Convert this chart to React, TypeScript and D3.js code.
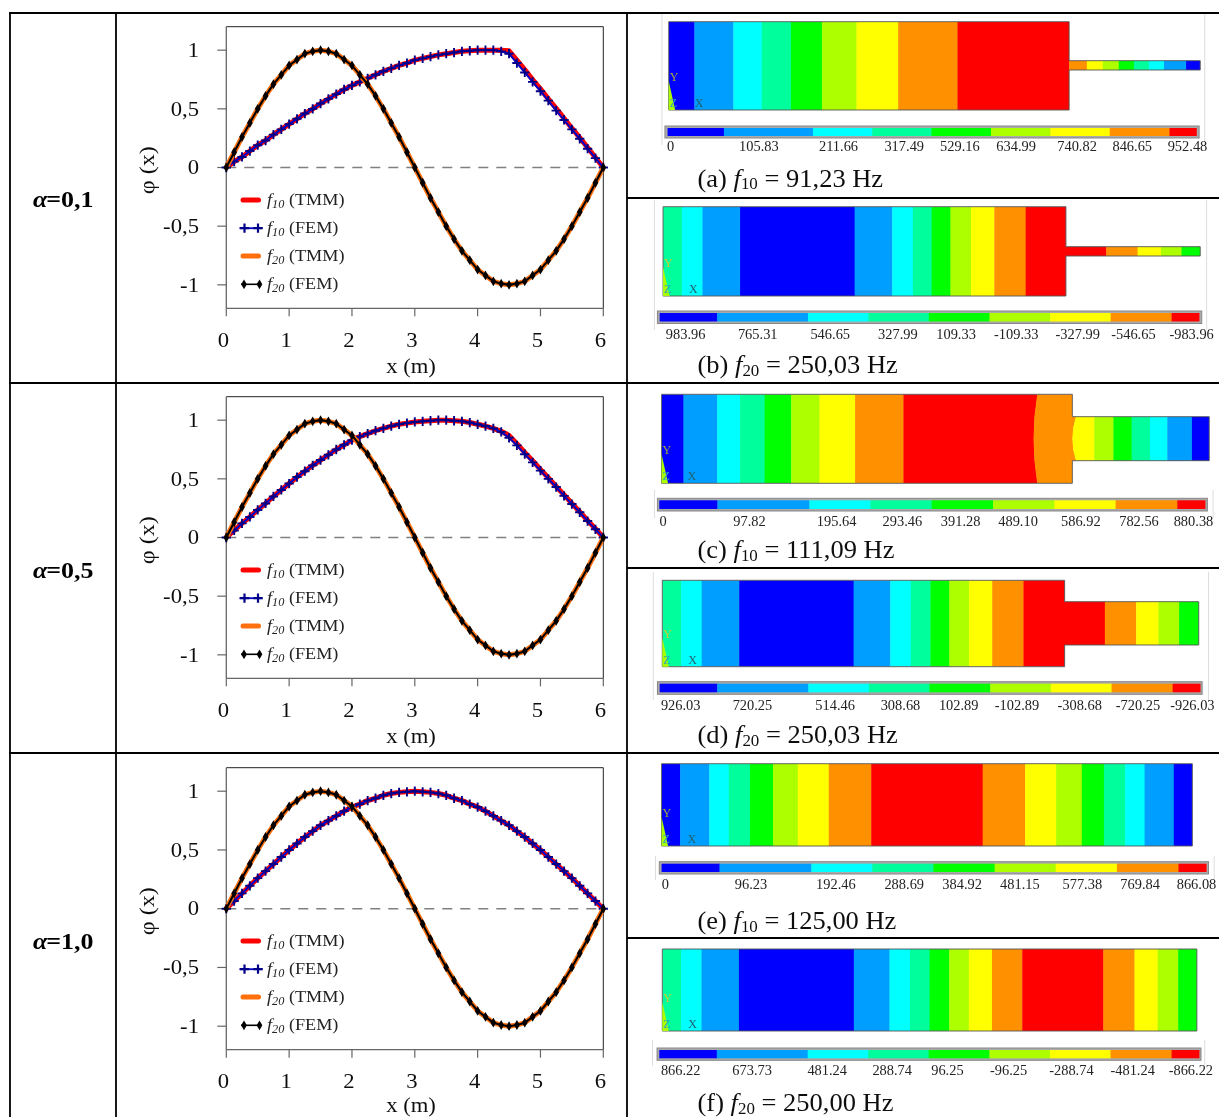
import React from "react";
import * as d3 from "d3";

// ---------- chart data ----------
const xNodes = [0,0.125,0.25,0.375,0.5,0.625,0.75,0.875,1,1.125,1.25,1.375,1.5,1.625,1.75,1.875,2,2.125,2.25,2.375,2.5,2.625,2.75,2.875,3,3.125,3.25,3.375,3.5,3.625,3.75,3.875,4,4.125,4.25,4.375,4.5,4.625,4.75,4.875,5,5.125,5.25,5.375,5.5,5.625,5.75,5.875,6];

const f20Tmm = [0,.13,.26,.38,.5,.61,.71,.79,.87,.92,.97,.99,1,.99,.97,.92,.87,.79,.71,.61,.5,.38,.26,.13,0,-.13,-.26,-.38,-.5,-.61,-.71,-.79,-.87,-.92,-.97,-.99,-1,-.99,-.97,-.92,-.87,-.79,-.71,-.61,-.5,-.38,-.26,-.13,0];
const f20Fem = [0,.13,.26,.38,.5,.61,.71,.79,.87,.92,.97,.99,1,.99,.97,.92,.87,.79,.71,.61,.5,.38,.26,.13,0,-.13,-.26,-.38,-.5,-.61,-.71,-.79,-.87,-.92,-.97,-.99,-1,-.99,-.97,-.92,-.87,-.79,-.71,-.61,-.5,-.38,-.26,-.13,0];

const f10TmmA01 = [0,.05,.09,.14,.19,.23,.28,.325,.37,.415,.46,.5,.545,.585,.625,.665,.7,.73,.76,.79,.82,.845,.87,.89,.915,.93,.945,.96,.97,.98,.99,.995,1,1,1,1,.995,.915,.835,.75,.67,.585,.505,.42,.335,.255,.17,.085,0];
const f10FemA01 = [0,.05,.09,.14,.19,.23,.28,.325,.37,.415,.46,.5,.545,.585,.625,.665,.7,.73,.76,.79,.82,.845,.87,.89,.915,.93,.945,.96,.97,.98,.99,.995,1,1,1,.99,.97,.89,.81,.73,.65,.57,.485,.405,.325,.245,.16,.08,0];
const f10TmmA05 = [0,.06,.12,.175,.235,.29,.35,.405,.46,.515,.565,.615,.66,.705,.75,.79,.83,.86,.885,.91,.93,.95,.965,.975,.985,.99,.995,1,1,.995,.99,.98,.965,.95,.93,.905,.87,.8,.725,.655,.58,.51,.435,.365,.29,.22,.145,.075,0];
const f10FemA05 = [0,.06,.12,.175,.235,.29,.35,.405,.46,.515,.565,.615,.66,.705,.75,.79,.83,.86,.885,.91,.93,.95,.965,.975,.985,.99,.995,1,1,.995,.99,.98,.965,.95,.93,.9,.85,.785,.71,.64,.57,.5,.43,.355,.285,.215,.14,.07,0];
const f10TmmA10 = [0,.065,.13,.195,.26,.32,.38,.44,.5,.555,.61,.66,.71,.75,.79,.83,.865,.89,.92,.94,.965,.98,.99,.995,1,.995,.99,.98,.965,.94,.92,.89,.865,.83,.79,.75,.71,.66,.61,.555,.5,.44,.38,.32,.26,.195,.13,.065,0];
const f10FemA10 = [0,.065,.13,.195,.26,.32,.38,.44,.5,.555,.61,.66,.71,.75,.79,.83,.865,.89,.92,.94,.965,.98,.99,.995,1,.995,.99,.98,.965,.94,.92,.89,.865,.83,.79,.75,.71,.66,.61,.555,.5,.44,.38,.32,.26,.195,.13,.065,0];

const yTicks = [1, 0.5, 0, -0.5, -1];
const yTickLabels = ["1", "0,5", "0", "-0,5", "-1"];
const xTicks = [0, 1, 2, 3, 4, 5, 6];
const alphaLabels = ["=0,1", "=0,5", "=1,0"];

// ---------- contour data (band edges along the beam in metres, colour level of each band) ----------
const levelColors = ["#0000ff", "#009fff", "#00ffff", "#00ff9c", "#00ff00", "#adff00", "#ffff00", "#ff9000", "#ff0000"];
const legendStops = [0, 0.1065, 0.2749, 0.387, 0.499, 0.6115, 0.7237, 0.836, 0.949, 1];

const edgesA = [0,.29,.73,1.05,1.38,1.73,2.12,2.59,3.26,4.52,4.72,4.9,5.08,5.25,5.42,5.59,5.84,6];
const levelsA = [0,1,2,3,4,5,6,7,8,7,6,5,4,3,2,1,0];
const edgesB = [0,.21,.44,.86,2.14,2.56,2.79,3,3.21,3.44,3.7,4.05,4.95,5.3,5.56,5.79,6];
const levelsB = [3,2,1,0,1,2,3,4,5,6,7,8,7,6,5,4];
const edgesC = [0,.24,.61,.86,1.13,1.42,1.73,2.12,2.65,4.115,4.66,4.74,4.95,5.15,5.35,5.54,5.81,6];
const levelsC = [0,1,2,3,4,5,6,7,8,7,6,5,4,3,2,1,0];
const bendsC = [0,0,0,0,0,0,0,0,0,-.04,-.16,0,0,0,0,0,0,0];
const edgesD = [0,.21,.44,.86,2.14,2.55,2.78,3,3.21,3.43,3.69,4.04,4.95,5.3,5.55,5.78,6];
const levelsD = [3,2,1,0,1,2,3,4,5,6,7,8,7,6,5,4];
const edgesE = [0,.21,.54,.76,1,1.26,1.54,1.89,2.37,3.63,4.11,4.46,4.75,5,5.24,5.46,5.79,6];
const levelsE = [0,1,2,3,4,5,6,7,8,7,6,5,4,3,2,1,0];
const edgesF = [0,.21,.44,.86,2.15,2.55,2.78,3,3.22,3.44,3.7,4.04,4.95,5.3,5.56,5.79,6];
const levelsF = [3,2,1,0,1,2,3,4,5,6,7,8,7,6,5,4];

const labelsA = ["0","105.83","211.66","317.49","529.16","634.99","740.82","846.65","952.48"];
const labelsB = ["983.96","765.31","546.65","327.99","109.33","-109.33","-327.99","-546.65","-983.96"];
const labelsC = ["0","97.82","195.64","293.46","391.28","489.10","586.92","782.56","880.38"];
const labelsD = ["926.03","720.25","514.46","308.68","102.89","-102.89","-308.68","-720.25","-926.03"];
const labelsE = ["0","96.23","192.46","288.69","384.92","481.15","577.38","769.84","866.08"];
const labelsF = ["866.22","673.73","481.24","288.74","96.25","-96.25","-288.74","-481.24","-866.22"];

// ---------- layout ----------
const W = 1219, H = 1117;
const SERIF = "'Liberation Serif','Times New Roman',serif";
const plotX0 = 226.3, plotX1 = 603.3;
const charts = [
  { top: 26.7, bottom: 308.3, titleY: 373, tmm: f10TmmA01, fem: f10FemA01, alphaY: 207 },
  { top: 396.7, bottom: 678.3, titleY: 743, tmm: f10TmmA05, fem: f10FemA05, alphaY: 578 },
  { top: 767.7, bottom: 1049.7, titleY: 1112, tmm: f10TmmA10, fem: f10FemA10, alphaY: 949 },
];
const zx = (z: number) => 630 + z / 2.662;

const panels = [
  { id: "a", z0: 103, z1: 1518, top: 21.7, bot: 110, nTop: 60.7, nBot: 70, step: 4.52, edges: edgesA, levels: levelsA, bends: null,
    bar: [93, 1515, 126, 138, 100, 1508], labels: labelsA, centres: [108,343,555,730,878,1028,1190,1337,1484], labelY: 151,
    capLetter: "(a) ", sub: "10", capValue: " = 91,23 Hz", capY: 186.7, frame: [85, 1530, 14, 145], yc: "#a8a83c" },
  { id: "b", z0: 88, z1: 1518, top: 206.7, bot: 296, nTop: 246.7, nBot: 256, step: 4.5, edges: edgesB, levels: levelsB, bends: null,
    bar: [73, 1522, 311, 323.5, 79, 1515], labels: labelsB, centres: [148,340,533,713,868,1028,1192,1340,1495], labelY: 339,
    capLetter: "(b) ", sub: "20", capValue: " = 250,03 Hz", capY: 373, frame: [65, 1535, 200, 330], yc: "#cfcf30" },
  { id: "c", z0: 84, z1: 1542, top: 394.3, bot: 483.3, nTop: 416.7, nBot: 460.7, step: 4.5, edges: edgesC, levels: levelsC, bends: bendsC,
    bar: [73, 1537, 498.3, 511, 78, 1531], labels: labelsC, centres: [88,318,550,725,880,1033,1200,1355,1500], labelY: 526,
    capLetter: "(c) ", sub: "10", capValue: " = 111,09 Hz", capY: 558, frame: [65, 1552, 490, 518], yc: "#a8a83c" },
  { id: "d", z0: 86, z1: 1514, top: 580.3, bot: 666.7, nTop: 601.7, nBot: 645, step: 4.5, edges: edgesD, levels: levelsD, bends: null,
    bar: [73, 1523, 681.7, 694.3, 79, 1518], labels: labelsD, centres: [135,326,546,720,875,1030,1197,1352,1497], labelY: 710,
    capLetter: "(d) ", sub: "20", capValue: " = 250,03 Hz", capY: 743, frame: [62, 1540, 572, 700], yc: "#cfcf30" },
  { id: "e", z0: 84, z1: 1497, top: 763.7, bot: 846, nTop: 763.7, nBot: 846, step: 6, edges: edgesE, levels: levelsE, bends: null,
    bar: [78, 1540, 861.7, 874, 84, 1534], labels: labelsE, centres: [94,322,548,730,884,1038,1204,1358,1508], labelY: 889,
    capLetter: "(e) ", sub: "10", capValue: " = 125,00 Hz", capY: 929, frame: [68, 1555, 856, 880], yc: "#a8a83c" },
  { id: "f", z0: 86, z1: 1509, top: 949, bot: 1031, nTop: 949, nBot: 1031, step: 6, edges: edgesF, levels: levelsF, bends: null,
    bar: [72, 1520, 1048, 1060.3, 78, 1515], labels: labelsF, centres: [135,325,525,698,845,1008,1175,1338,1493], labelY: 1074.5,
    capLetter: "(f) ", sub: "20", capValue: " = 250,00 Hz", capY: 1111, frame: [60, 1530, 1040, 1066], yc: "#cfcf30" },
];

// Text stretched horizontally, as the source image is
function T({ x, y, sx = 1, size, anchor = "start", weight, fill = "#111", rotate, family = SERIF, children }: any) {
  const tr = `translate(${x},${y})${rotate ? ` rotate(${rotate})` : ""} scale(${sx},1)`;
  return (
    <text transform={tr} fontFamily={family} fontSize={size} textAnchor={anchor} fontWeight={weight} fill={fill}>
      {children}
    </text>
  );
}

const plusSym = d3.symbol(d3.symbolPlus, 30)()!;
const diaSym = d3.symbol(d3.symbolDiamond, 28)()!;

function Chart({ c }: any) {
  const x = d3.scaleLinear().domain([0, 6]).range([plotX0, plotX1]);
  const y = d3.scaleLinear().domain([-1.2, 1.2]).range([c.bottom, c.top]);
  const line = (vals: number[]) =>
    d3.line<number>().x((_, i) => x(xNodes[i])).y((d) => y(d))(vals) || "";
  const legendY = [173.3, 201.5, 229.4, 257.6].map((d) => c.top + d);
  const axisC = "#666";
  const entries = [
    ["10", "(TMM)"], ["10", "(FEM)"], ["20", "(TMM)"], ["20", "(FEM)"],
  ];
  return (
    <g>
      <line x1={plotX0} x2={plotX1} y1={c.top} y2={c.top} stroke="#222" strokeWidth={1} />
      <line x1={plotX1} x2={plotX1} y1={c.top} y2={c.bottom} stroke="#222" strokeWidth={1} />
      <line x1={plotX0} x2={plotX0} y1={c.top} y2={c.bottom} stroke={axisC} strokeWidth={1.3} />
      <line x1={plotX0} x2={plotX1} y1={c.bottom} y2={c.bottom} stroke={axisC} strokeWidth={1.3} />
      {yTicks.map((t, i) => (
        <g key={t}>
          <line x1={plotX0 - 9} x2={plotX0} y1={y(t)} y2={y(t)} stroke={axisC} strokeWidth={1.2} />
          <T x={199} y={y(t) + 6.7} size={21} sx={1.08} anchor="end">{yTickLabels[i]}</T>
        </g>
      ))}
      {xTicks.map((t) => (
        <g key={t}>
          <line x1={x(t)} x2={x(t)} y1={c.bottom} y2={c.bottom + 8} stroke={axisC} strokeWidth={1.2} />
          <T x={x(t) - 3} y={c.bottom + 38.7} size={21} sx={1.08} anchor="middle">{t}</T>
        </g>
      ))}
      <line x1={plotX0} x2={plotX1} y1={y(0)} y2={y(0)} stroke="#808080" strokeWidth={1.6} strokeDasharray="10 8" />
      <path d={line(c.tmm)} fill="none" stroke="#ff0000" strokeWidth={5} strokeLinejoin="round" />
      <path d={line(c.fem)} fill="none" stroke="#0000c8" strokeWidth={2} />
      {c.fem.map((v: number, i: number) => (
        <path key={i} d={plusSym} transform={`translate(${x(xNodes[i])},${y(v)})`} stroke="#000088" strokeWidth={1.9} fill="none" />
      ))}
      <path d={line(f20Tmm)} fill="none" stroke="#ff7010" strokeWidth={5} strokeLinejoin="round" />
      <path d={line(f20Fem)} fill="none" stroke="#000" strokeWidth={2.1} />
      {f20Fem.map((v, i) => (
        <path key={i} d={diaSym} transform={`translate(${x(xNodes[i])},${y(v)})`} fill="#000" />
      ))}
      <T x={154} y={c.top + 143.5} size={21} sx={1.15} rotate={-90} anchor="middle">φ (x)</T>
      <T x={411} y={c.titleY} size={21} sx={1.08} anchor="middle">x (m)</T>
      {/* legend */}
      <line x1={243} x2={258.5} y1={legendY[0]} y2={legendY[0]} stroke="#ff0000" strokeWidth={5} strokeLinecap="round" />
      <line x1={239.5} x2={262.5} y1={legendY[1]} y2={legendY[1]} stroke="#0000c8" strokeWidth={1.8} />
      {[244.5, 258].map((px) => (
        <path key={px} d={plusSym} transform={`translate(${px},${legendY[1]})`} stroke="#000088" strokeWidth={2.2} fill="none" />
      ))}
      <line x1={243} x2={258.5} y1={legendY[2]} y2={legendY[2]} stroke="#ff7010" strokeWidth={5} strokeLinecap="round" />
      <line x1={241} x2={261} y1={legendY[3]} y2={legendY[3]} stroke="#000" strokeWidth={1.6} />
      {[244, 259.5].map((px) => (
        <path key={px} d={diaSym} transform={`translate(${px},${legendY[3]})`} fill="#000" />
      ))}
      {entries.map(([sub, txt], i) => (
        <g key={i} transform={`translate(267,${legendY[i] + 5})`}>
          <T x={0} y={0} size={17} sx={1.07} fill="#222">
            <tspan fontStyle="italic">f</tspan>
            <tspan fontStyle="italic" fontSize={11.5} dy={3}>{sub}</tspan>
            <tspan dy={-3}> {txt}</tspan>
          </T>
        </g>
      ))}
    </g>
  );
}

function Panel({ p }: any) {
  const x = d3.scaleLinear().domain([0, 6]).range([zx(p.z0), zx(p.z1)]);
  const mid = (p.top + p.bot) / 2;
  const outline = [
    [x(0), p.top], [x(p.step), p.top], [x(p.step), p.nTop], [x(6), p.nTop],
    [x(6), p.nBot], [x(p.step), p.nBot], [x(p.step), p.bot], [x(0), p.bot],
  ] as [number, number][];
  const outlinePath = (d3.line()(outline) || "") + "Z";
  const [bx0, bx1, by0, by1, ix0, ix1] = p.bar;
  const barScale = d3.scaleLinear().domain([0, 1]).range([zx(ix0), zx(ix1)]);
  const [fl, fr, ft, fb] = p.frame;
  const x0 = x(0);
  return (
    <g>
      <line x1={zx(fl)} x2={zx(fl)} y1={ft} y2={fb} stroke="#ddd" strokeWidth={1} />
      <line x1={zx(fr)} x2={zx(fr)} y1={ft} y2={fb} stroke="#ddd" strokeWidth={1} />
      <clipPath id={`beam-${p.id}`}><path d={outlinePath} /></clipPath>
      <g clipPath={`url(#beam-${p.id})`}>
        {p.levels.map((lv: number, i: number) => {
          const a = x(p.edges[i]), b = x(p.edges[i + 1]);
          const ba = p.bends ? x(p.bends[i]) - x(0) : 0;
          const bb = p.bends ? x(p.bends[i + 1]) - x(0) : 0;
          return (
            <path key={i}
              d={`M${a},${p.top} Q${a + 2 * ba},${mid} ${a},${p.bot} L${b + 0.4},${p.bot} Q${b + 0.4 + 2 * bb},${mid} ${b + 0.4},${p.top} Z`}
              fill={levelColors[lv]} />
          );
        })}
      </g>
      <path d={outlinePath} fill="none" stroke="#555" strokeWidth={0.9} />
      <path d={`M${x0},${p.bot - 29} L${x0 + 6.5},${p.bot} L${x0},${p.bot} Z`} fill="#aaff00" />
      <text x={x0 + 1} y={p.bot - 29} fontFamily={SERIF} fontSize={12} fill={p.yc}>Y</text>
      <text x={x0 + 1} y={p.bot - 3} fontFamily={SERIF} fontSize={12} fill="#30a0c0">Z</text>
      <text x={x0 + 26} y={p.bot - 3} fontFamily={SERIF} fontSize={12} fill="#206070">X</text>
      <rect x={zx(bx0)} y={by0} width={zx(bx1) - zx(bx0)} height={by1 - by0} fill="#aaa" stroke="#888" strokeWidth={1} />
      {levelColors.map((col, i) => (
        <rect key={i} x={barScale(legendStops[i])} y={by0 + 2} width={barScale(legendStops[i + 1]) - barScale(legendStops[i]) + 0.3} height={by1 - by0 - 4} fill={col} />
      ))}
      {p.labels.map((l: string, i: number) => (
        <T key={i} x={zx(p.centres[i])} y={p.labelY} size={14} sx={1.03} anchor="middle" fill="#222">{l}</T>
      ))}
      <T x={697.5} y={p.capY} size={25} sx={1.06} fill="#111">
        <tspan>{p.capLetter}</tspan>
        <tspan fontStyle="italic">f</tspan>
        <tspan fontSize={16} dy={2.5}>{p.sub}</tspan>
        <tspan dy={-2.5}>{p.capValue}</tspan>
      </T>
    </g>
  );
}

export default function App() {
  return (
    <svg width={W} height={H} viewBox={`0 0 ${W} ${H}`} style={{ position: "absolute", left: 0, top: 0, background: "#fff" }}>
      <defs>
        <filter id="soft" x="0" y="0" width={W} height={H} filterUnits="userSpaceOnUse">
          <feGaussianBlur stdDeviation="0.45" />
        </filter>
      </defs>
      <g filter="url(#soft)">
        <rect x={0} y={0} width={W} height={H} fill="#fff" />
        {panels.map((p) => <Panel key={p.id} p={p} />)}
        {charts.map((c, i) => (
          <g key={i}>
            <Chart c={c} />
            <T x={33} y={c.alphaY} size={23} sx={1.13} weight="bold" fill="#000">
              <tspan fontStyle="italic">α</tspan>
              <tspan dx={-1}>{alphaLabels[i]}</tspan>
            </T>
          </g>
        ))}
        {/* table rules */}
        <g stroke="#000" strokeWidth={1.8}>
          {[13, 383, 753].map((y) => <line key={y} x1={9} x2={W} y1={y} y2={y} />)}
          {[198, 568, 938].map((y) => <line key={y} x1={627} x2={W} y1={y} y2={y} />)}
          {[10, 116, 627].map((x) => <line key={x} x1={x} x2={x} y1={13} y2={H} />)}
        </g>
      </g>
    </svg>
  );
}
